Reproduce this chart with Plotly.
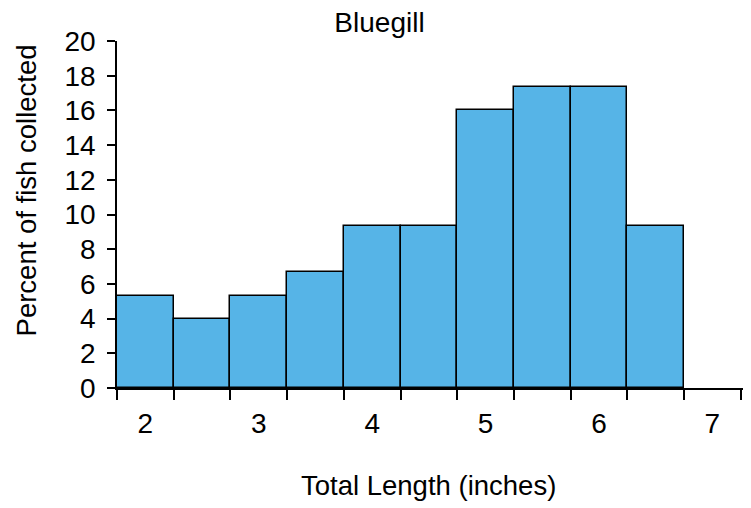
import plotly.graph_objects as go

# Bin centres (inches) and percent of fish in each half-inch bin
length_mid = [2.0, 2.5, 3.0, 3.5, 4.0, 4.5, 5.0, 5.5, 6.0, 6.5]
pct_fish = [5.33, 4.0, 5.33, 6.67, 9.33, 9.33, 16.0, 17.33, 17.33, 9.33]
x_ticks = [2, 3, 4, 5, 6, 7]
y_ticks = [0, 2, 4, 6, 8, 10, 12, 14, 16, 18, 20]

fnt = "Liberation Sans, Arial, sans-serif"
fs = 27.5

fig = go.Figure()
fig.add_trace(go.Bar(
    x=length_mid, y=pct_fish, width=0.5,
    marker=dict(color="#56B4E7", line=dict(color="black", width=1.5)),
    showlegend=False))

fig.update_layout(
    width=743, height=500,
    margin=dict(l=109, r=8, t=33, b=120),
    plot_bgcolor="white", paper_bgcolor="white",
    font=dict(family=fnt, size=fs, color="black"),
    bargap=0,
    title=dict(text="Bluegill", x=0.5, xref="container", xanchor="center",
               y=0.972, yref="container", yanchor="middle",
               font=dict(size=28)),
)

fig.update_xaxes(
    range=[1.75, 7.27], tickvals=x_ticks, ticks="", showgrid=False,
    showline=True, linecolor="black", linewidth=1.5, zeroline=False,
    ticklabelstandoff=10, tickfont=dict(size=28),
    minor=dict(tick0=1.75, dtick=0.5, ticks="outside", ticklen=10,
               tickwidth=1.5, tickcolor="black", showgrid=False),
)
fig.update_yaxes(
    range=[0, 20], tickvals=y_ticks, ticks="outside", ticklen=8,
    tickwidth=1.5, tickcolor="black", showgrid=False, zeroline=False,
    showline=True, linecolor="black", linewidth=1.5,
    ticklabelstandoff=6, tickfont=dict(size=28),
)

fig.add_annotation(text="Total Length (inches)",
                   xref="paper", yref="paper", x=0.497, y=-0.28,
                   xanchor="center", yanchor="middle", showarrow=False)
fig.add_annotation(text="Percent of fish collected", textangle=-90,
                   xref="paper", yref="paper", x=-0.145, y=0.57,
                   xanchor="center", yanchor="middle", showarrow=False)

fig.write_html("out.html")
